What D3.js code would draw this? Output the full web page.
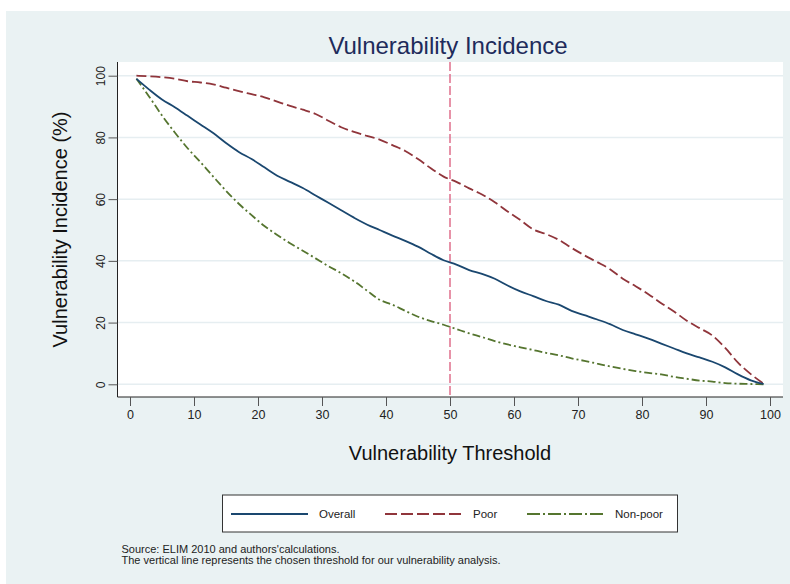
<!DOCTYPE html>
<html>
<head>
<meta charset="utf-8">
<script src="https://cdn.jsdelivr.net/npm/d3@7"></script>
<style>
  html, body { margin: 0; padding: 0; background: #ffffff; }
  svg { display: block; }
  text { font-family: "Liberation Sans", Arial, sans-serif; }
</style>
</head>
<body>
<svg id="chart" width="790" height="584"></svg>
<script>
// ---- Data ----
const thresholds = [1,3,5,7,9,11,13,15,17,19,21,23,25,27,29,31,33,35,37,39,41,43,45,47,49,
                    51,53,55,57,59,61,63,65,67,69,71,73,75,77,79,81,83,85,87,89,91,93,95,97,99];
const overall = [99.0,95.5,92.3,89.8,87.0,84.2,81.4,78.2,75.3,73.0,70.3,67.6,65.6,63.6,61.2,58.8,56.4,54.0,51.8,50.0,
                 48.2,46.5,44.6,42.3,40.2,38.8,37.0,35.8,34.2,32.0,30.1,28.6,27.0,25.8,23.8,22.4,21.0,19.5,17.6,16.2,
                 14.8,13.2,11.6,10.0,8.7,7.3,5.5,3.2,1.3,0.1];
const poor = [100,99.8,99.5,99.0,98.2,97.8,97.2,96.1,95.0,94.0,93.0,91.6,90.2,89.0,87.6,85.4,83.3,81.8,80.5,79.3,
              77.5,75.6,73.0,70.0,67.3,65.6,63.5,61.5,59.0,56.0,53.2,50.2,48.7,46.8,44.2,41.8,39.6,37.3,34.2,31.8,
              29.2,26.3,23.6,20.6,18.2,15.8,11.8,7.0,3.3,0.2];
const nonPoor = [99,93.2,87.1,81.6,76.5,72.0,67.3,62.7,58.5,54.8,51.3,48.4,45.7,43.3,40.8,38.3,36.0,33.4,30.4,27.4,
                 25.8,23.8,21.9,20.5,19.3,17.9,16.5,15.3,14.0,12.9,12.0,11.1,10.2,9.4,8.4,7.6,6.7,5.8,5.0,4.3,
                 3.7,3.2,2.4,1.8,1.2,0.9,0.4,0.2,0.1,0];
const seriesNames = ["Overall", "Poor", "Non-poor"];
const xTicks = [0,10,20,30,40,50,60,70,80,90,100];
const yTicks = [0,20,40,60,80,100];
const chosenThreshold = 50;
const titleText = "Vulnerability Incidence";
const xTitle = "Vulnerability Threshold";
const yTitle = "Vulnerability Incidence (%)";
const notes = ["Source: ELIM 2010 and authors'calculations.",
               "The vertical line represents the chosen threshold for our vulnerability analysis."];

// ---- Styles ----
const colors = {"Overall": "#1a476f", "Poor": "#90353b", "Non-poor": "#55752f"};
const dashes = {"Overall": null, "Poor": "10,4", "Non-poor": "8,3,2,3"};
const legendDashes = {"Overall": null, "Poor": "12,4", "Non-poor": "13,3,2,3"};
const bg = "#eaf2f3";

const svg = d3.select("#chart");

// outer background
svg.append("rect").attr("x", 6).attr("y", 11).attr("width", 784).attr("height", 573).attr("fill", bg);

const plot = {left: 117.5, right: 783, top: 62, bottom: 397};
svg.append("rect").attr("x", plot.left).attr("y", plot.top)
  .attr("width", plot.right - plot.left).attr("height", plot.bottom - plot.top).attr("fill", "#ffffff");

const x = d3.scaleLinear().domain([0, 100]).range([130, 770]);
const y = d3.scaleLinear().domain([0, 100]).range([384.3, 75.7]);

// gridlines
svg.append("g").selectAll("line").data(yTicks).join("line")
  .attr("x1", plot.left).attr("x2", plot.right)
  .attr("y1", d => y(d)).attr("y2", d => y(d))
  .attr("stroke", "#e6eef1").attr("stroke-width", 1.5);

// axes
const yAxis = svg.append("g").attr("transform", `translate(${plot.left},0)`)
  .call(d3.axisLeft(y).tickValues(yTicks).tickSize(9).tickPadding(6).tickFormat(d3.format("d")));
yAxis.select(".domain").attr("d", `M0,${plot.top}V${plot.bottom}`).attr("stroke", "#222");
yAxis.selectAll(".tick line").attr("stroke", "#555");
yAxis.selectAll(".tick text")
  .attr("transform", "translate(-17,0) rotate(-90)")
  .attr("x", 0).attr("y", 0).attr("dy", "0.35em")
  .attr("text-anchor", "middle")
  .attr("font-size", 12).attr("fill", "#222")
  .attr("font-family", "Liberation Sans, Arial, sans-serif");

const xAxis = svg.append("g").attr("transform", `translate(0,${plot.bottom})`)
  .call(d3.axisBottom(x).tickValues(xTicks).tickSize(9).tickPadding(4).tickFormat(d3.format("d")));
xAxis.select(".domain").attr("d", `M${plot.left},0H${plot.right}`).attr("stroke", "#222");
xAxis.selectAll(".tick line").attr("stroke", "#555");
xAxis.selectAll(".tick text").attr("font-size", 12.5).attr("fill", "#222")
  .attr("font-family", "Liberation Sans, Arial, sans-serif");

// vertical threshold line
svg.append("line")
  .attr("x1", x(chosenThreshold)).attr("x2", x(chosenThreshold))
  .attr("y1", plot.top).attr("y2", plot.bottom)
  .attr("stroke", "#df6f8c").attr("stroke-width", 1.5).attr("stroke-dasharray", "9,3");

// series lines
const seriesData = {"Overall": overall, "Poor": poor, "Non-poor": nonPoor};
const line = d3.line().x((d, i) => x(thresholds[i])).y(d => y(d)).curve(d3.curveMonotoneX);
seriesNames.slice().reverse().forEach(name => {
  svg.append("path").datum(seriesData[name])
    .attr("d", line).attr("fill", "none")
    .attr("stroke", colors[name]).attr("stroke-width", 1.8)
    .attr("stroke-dasharray", dashes[name]);
});

// title
svg.append("text").attr("x", 448).attr("y", 54).attr("text-anchor", "middle")
  .attr("font-size", 24).attr("fill", "#1e2b5b").text(titleText);

// axis titles
svg.append("text").attr("x", x(50)).attr("y", 460).attr("text-anchor", "middle")
  .attr("font-size", 20).attr("fill", "#111").text(xTitle);
svg.append("text").attr("transform", `translate(66.5,${(plot.top + plot.bottom) / 2}) rotate(-90)`)
  .attr("text-anchor", "middle").attr("font-size", 20).attr("fill", "#111").text(yTitle);

// legend
const lg = svg.append("g");
lg.append("rect").attr("x", 222.5).attr("y", 495).attr("width", 455).attr("height", 37)
  .attr("fill", "#ffffff").attr("stroke", "#333").attr("stroke-width", 1);
const legendX = [231, 385, 527];
seriesNames.forEach((name, i) => {
  lg.append("line").attr("x1", legendX[i]).attr("x2", legendX[i] + 77)
    .attr("y1", 514).attr("y2", 514)
    .attr("stroke", colors[name]).attr("stroke-width", 1.8)
    .attr("stroke-dasharray", legendDashes[name]);
  lg.append("text").attr("x", legendX[i] + 88).attr("y", 518.3)
    .attr("font-size", 11.5).attr("fill", "#222").text(name);
});

// notes
svg.selectAll("text.note").data(notes).join("text").attr("class", "note")
  .attr("x", 121.5).attr("y", (d, i) => 553 + i * 10.5)
  .attr("font-size", 11).attr("fill", "#222").text(d => d);
</script>
</body>
</html>
